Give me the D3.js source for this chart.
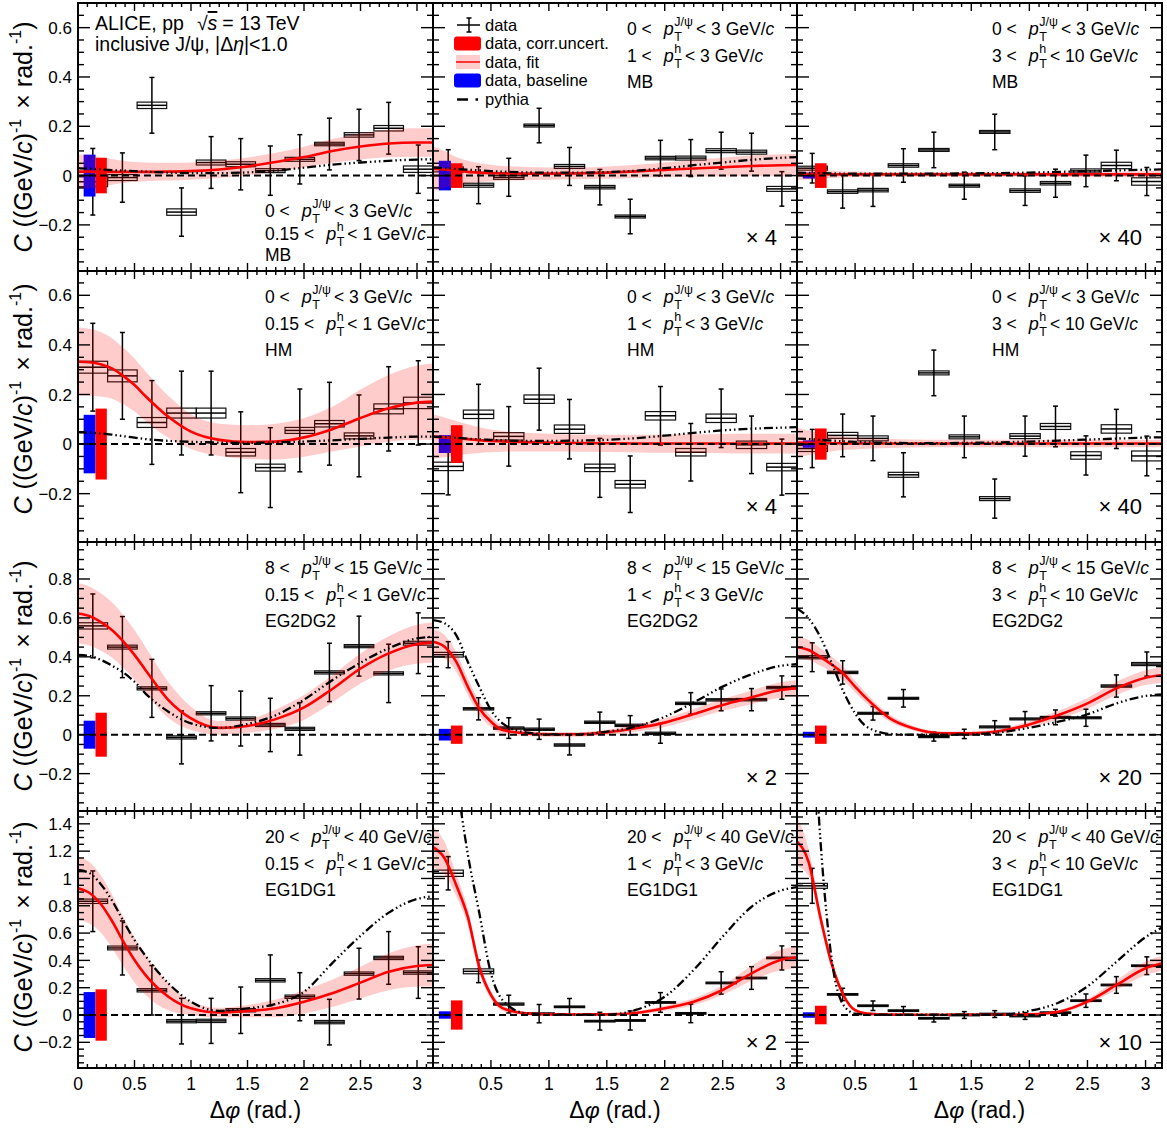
<!DOCTYPE html>
<meta charset="utf-8">
<style>
body{margin:0;background:#fff;}
svg{display:block;font-family:"Liberation Sans",Arial,Helvetica,sans-serif;}
.frame{fill:none;stroke:#000;stroke-width:2px;}
.tick{stroke:#000;stroke-width:1.4px;}
.sysbox{fill:none;stroke:#111;stroke-width:1.2px;}
.err{stroke:#000;stroke-width:1.5px;fill:none;}
.fit{fill:none;stroke:#ff0000;stroke-width:2.6px;}
.band{fill:#ff0000;fill-opacity:0.2;stroke:none;}
.pythia{fill:none;stroke:#000;stroke-width:2.3px;stroke-dasharray:9 3 1.5 3 1.5 3 1.5 3;}
.zero{stroke:#000;stroke-width:2px;stroke-dasharray:7 4;}
</style>
<body>
<script src="https://d3js.org/d3.v7.min.js"></script>
<script>
// bin centres in delta phi (12 bins of pi/12)
var centres = [0.131,0.393,0.654,0.916,1.178,1.440,1.702,1.963,2.225,2.487,2.749,3.011];
var binWidth = 0.2618;
// grid on which fit, band and pythia were read
var grid = [0,0.1,0.2,0.3,0.4,0.5,0.6,0.8,1.0,1.25,1.5,1.75,2.0,2.25,2.5,2.75,3.0,3.1416];

// ---- MB, 0 < pT J/psi < 3
var mbLowY   = [-0.025,-0.008,0.285,-0.148,0.053,0.046,0.02,0.066,0.128,0.165,0.192,0.026];
var mbLowErr = [0.135,0.1,0.113,0.098,0.105,0.104,0.1,0.1,0.105,0.104,0.105,0.098];
var mbLowSys = [0.02,0.012,0.013,0.013,0.01,0.01,0.008,0.008,0.007,0.009,0.011,0.013];
var mbLowFit = [0.016,0.016,0.015,0.015,0.015,0.015,0.015,0.016,0.018,0.025,0.037,0.055,0.075,0.1,0.118,0.13,0.134,0.134];
var mbLowBand= [0.07,0.068,0.06,0.052,0.045,0.04,0.038,0.036,0.035,0.035,0.036,0.038,0.042,0.048,0.053,0.056,0.058,0.058];
var mbLowPy  = [0.03,0.028,0.025,0.022,0.02,0.018,0.016,0.012,0.01,0.01,0.013,0.02,0.032,0.044,0.053,0.06,0.065,0.066];

var mbMidY   = [0.025,-0.039,-0.007,0.203,0.037,-0.047,-0.166,0.071,0.071,0.101,0.095,-0.054];
var mbMidErr = [0.08,0.075,0.077,0.07,0.077,0.072,0.07,0.072,0.075,0.075,0.077,0.07];
var mbMidSys = [0.01,0.008,0.008,0.006,0.008,0.007,0.006,0.007,0.008,0.008,0.008,0.01];
var mbMidFit = [0.028,0.025,0.02,0.015,0.012,0.01,0.009,0.008,0.008,0.009,0.012,0.017,0.023,0.029,0.034,0.039,0.042,0.043];
var mbMidBand= [0.09,0.075,0.055,0.045,0.038,0.034,0.03,0.027,0.025,0.024,0.025,0.027,0.03,0.034,0.038,0.042,0.045,0.045];
var mbMidPy  = [0.032,0.03,0.027,0.024,0.021,0.018,0.016,0.013,0.012,0.012,0.014,0.02,0.03,0.042,0.053,0.064,0.072,0.075];

var mbHighY   = [0.03,-0.065,-0.059,0.041,0.104,-0.041,0.177,-0.061,-0.031,0.019,0.041,-0.024];
var mbHighErr = [0.06,0.067,0.066,0.068,0.072,0.055,0.072,0.06,0.057,0.064,0.062,0.057];
var mbHighSys = [0.008,0.007,0.007,0.007,0.006,0.006,0.006,0.007,0.007,0.008,0.013,0.015];
var mbHighFit = [0.007,0.006,0.006,0.005,0.005,0.005,0.005,0.005,0.005,0.005,0.005,0.005,0.005,0.005,0.005,0.005,0.005,0.005];
var mbHighBand= [0.025,0.022,0.018,0.015,0.013,0.012,0.011,0.01,0.01,0.01,0.01,0.01,0.01,0.011,0.012,0.012,0.013,0.013];
var mbHighPy  = [0.012,0.011,0.01,0.009,0.008,0.008,0.008,0.008,0.008,0.008,0.009,0.01,0.012,0.015,0.018,0.021,0.024,0.025];

// ---- HM, 0 < pT J/psi < 3
var hmLowY   = [0.31,0.275,0.087,0.125,0.125,-0.033,-0.095,0.055,0.082,0.033,0.142,0.166];
var hmLowErr = [0.177,0.175,0.169,0.169,0.169,0.163,0.161,0.167,0.167,0.165,0.17,0.17];
var hmLowSys = [0.024,0.024,0.02,0.02,0.02,0.015,0.014,0.012,0.013,0.012,0.02,0.023];
var hmLowFit = [0.332,0.33,0.322,0.305,0.275,0.238,0.192,0.11,0.05,0.017,0.008,0.01,0.027,0.06,0.105,0.144,0.167,0.171];
var hmLowBand= [0.138,0.135,0.13,0.122,0.114,0.107,0.1,0.085,0.07,0.065,0.068,0.072,0.078,0.09,0.115,0.135,0.15,0.155];
var hmLowPy  = [0.048,0.046,0.043,0.038,0.032,0.026,0.02,0.013,0.009,0.006,0.005,0.007,0.01,0.015,0.021,0.026,0.03,0.03];

var hmMidY   = [-0.09,0.12,0.031,0.181,0.06,-0.096,-0.162,0.114,-0.033,0.104,-0.003,-0.093];
var hmMidErr = [0.115,0.121,0.12,0.125,0.12,0.119,0.114,0.118,0.116,0.118,0.116,0.113];
var hmMidSys = [0.017,0.017,0.015,0.017,0.017,0.015,0.015,0.017,0.015,0.017,0.015,0.015];
var hmMidFit = [0.03,0.027,0.023,0.02,0.016,0.013,0.011,0.008,0.006,0.004,0.003,0.002,0.002,0.002,0.002,0.002,0.002,0.002];
var hmMidBand= [0.09,0.08,0.07,0.06,0.052,0.046,0.042,0.038,0.036,0.035,0.035,0.036,0.037,0.038,0.039,0.04,0.04,0.04];
var hmMidPy  = [0.03,0.028,0.025,0.022,0.019,0.017,0.015,0.013,0.013,0.014,0.017,0.024,0.034,0.045,0.055,0.062,0.066,0.068];

var hmHighY   = [-0.018,0.035,0.023,-0.124,0.287,0.029,-0.22,0.032,0.071,-0.046,0.061,-0.048];
var hmHighErr = [0.077,0.086,0.09,0.089,0.092,0.084,0.079,0.081,0.082,0.079,0.079,0.08];
var hmHighSys = [0.012,0.012,0.01,0.01,0.008,0.008,0.008,0.01,0.012,0.015,0.017,0.02];
var hmHighFit = [0.006,0.005,0.004,0.003,0.003,0.002,0.002,0.002,0.002,0.002,0.002,0.002,0.002,0.002,0.002,0.002,0.002,0.002];
var hmHighBand= [0.06,0.05,0.04,0.032,0.027,0.024,0.021,0.018,0.016,0.015,0.015,0.015,0.015,0.015,0.015,0.015,0.015,0.015];
var hmHighPy  = [0.022,0.02,0.017,0.014,0.011,0.009,0.007,0.005,0.004,0.004,0.005,0.007,0.01,0.014,0.018,0.022,0.026,0.027];

// ---- EG2DG2, 8 < pT J/psi < 15
var eg2LowY   = [0.559,0.45,0.238,-0.014,0.11,0.083,0.05,0.03,0.32,0.455,0.315,0.47];
var eg2LowErr = [0.164,0.157,0.149,0.136,0.142,0.141,0.137,0.135,0.15,0.154,0.15,0.156];
var eg2LowSys = [0.016,0.01,0.008,0.008,0.008,0.008,0.008,0.008,0.008,0.008,0.008,0.01];
var eg2LowFit = [0.623,0.61,0.58,0.538,0.48,0.41,0.33,0.178,0.084,0.035,0.045,0.08,0.14,0.235,0.34,0.418,0.465,0.473];
var eg2LowBand= [0.155,0.152,0.148,0.142,0.135,0.128,0.118,0.092,0.06,0.035,0.035,0.05,0.064,0.07,0.077,0.088,0.1,0.103];
var eg2LowPy  = [0.41,0.405,0.385,0.355,0.32,0.272,0.21,0.118,0.058,0.035,0.055,0.1,0.18,0.28,0.37,0.444,0.495,0.503];

var eg2MidY   = [0.411,0.133,0.034,0.028,-0.053,0.064,0.048,0.007,0.161,0.179,0.18,0.242];
var eg2MidErr = [0.067,0.057,0.053,0.052,0.051,0.052,0.05,0.051,0.055,0.056,0.057,0.06];
var eg2MidSys = [0.012,0.006,0.006,0.006,0.006,0.006,0.006,0.006,0.006,0.006,0.006,0.006];
var eg2MidFit = [0.478,0.452,0.375,0.247,0.135,0.067,0.024,0.007,0.002,0.002,0.012,0.033,0.062,0.106,0.153,0.192,0.23,0.238];
var eg2MidBand= [0.065,0.06,0.05,0.042,0.035,0.028,0.022,0.015,0.012,0.012,0.014,0.018,0.022,0.026,0.03,0.035,0.04,0.043];
var eg2MidPy  = [0.589,0.572,0.512,0.375,0.245,0.127,0.058,0.012,0.002,0.002,0.016,0.041,0.092,0.166,0.247,0.31,0.354,0.362];

var eg2HighY   = [0.398,0.32,0.11,0.187,-0.01,0.004,0.04,0.081,0.089,0.087,0.25,0.363];
var eg2HighErr = [0.074,0.06,0.035,0.045,0.023,0.024,0.032,0.038,0.038,0.044,0.057,0.062];
var eg2HighSys = [0.008,0.006,0.005,0.005,0.005,0.005,0.005,0.005,0.005,0.005,0.006,0.008];
var eg2HighFit = [0.449,0.435,0.4,0.36,0.313,0.247,0.185,0.084,0.033,0.007,0.007,0.019,0.053,0.101,0.161,0.238,0.293,0.307];
var eg2HighBand= [0.058,0.052,0.045,0.04,0.035,0.03,0.025,0.018,0.012,0.01,0.01,0.012,0.016,0.022,0.028,0.034,0.038,0.04];
var eg2HighPy  = [0.649,0.598,0.503,0.367,0.221,0.11,0.041,0.004,0.0,0.0,0.002,0.012,0.036,0.067,0.105,0.161,0.199,0.207];

// ---- EG1DG1, 20 < pT J/psi < 40
var eg1LowY   = [0.833,0.491,0.181,-0.045,-0.043,0.035,0.254,0.134,-0.052,0.303,0.418,0.311];
var eg1LowErr = [0.222,0.198,0.181,0.167,0.165,0.17,0.186,0.176,0.167,0.186,0.193,0.189];
var eg1LowSys = [0.016,0.014,0.012,0.012,0.012,0.012,0.012,0.012,0.012,0.012,0.012,0.012];
var eg1LowFit = [0.928,0.895,0.815,0.69,0.54,0.403,0.29,0.134,0.049,0.018,0.029,0.049,0.097,0.159,0.237,0.317,0.359,0.366];
var eg1LowBand= [0.232,0.225,0.21,0.195,0.18,0.165,0.145,0.1,0.05,0.035,0.045,0.065,0.085,0.1,0.116,0.135,0.152,0.158];
var eg1LowPy  = [1.062,1.04,0.96,0.84,0.69,0.549,0.43,0.232,0.097,0.03,0.049,0.08,0.17,0.38,0.58,0.75,0.85,0.87];

var eg1MidY   = [1.038,0.32,0.08,0.01,0.06,-0.045,-0.04,0.092,0.012,0.235,0.271,0.418];
var eg1MidErr = [0.122,0.083,0.065,0.067,0.061,0.065,0.07,0.072,0.068,0.082,0.083,0.088];
var eg1MidSys = [0.023,0.018,0.008,0.006,0.006,0.006,0.006,0.006,0.006,0.006,0.006,0.006];
var eg1MidFit = [1.229,1.148,0.952,0.72,0.35,0.147,0.05,0.012,0.005,0.004,0.005,0.015,0.049,0.097,0.183,0.305,0.403,0.423];
var eg1MidBand= [0.15,0.12,0.08,0.06,0.045,0.03,0.02,0.012,0.01,0.01,0.01,0.012,0.018,0.025,0.035,0.055,0.075,0.082];
var eg1MidPy  = [2.6,2.4,1.75,1.18,0.745,0.305,0.11,0.012,0.003,0.003,0.003,0.037,0.134,0.33,0.574,0.793,0.911,0.936];

var eg1HighY   = [0.946,0.151,0.068,0.032,-0.024,0.0,0.007,-0.007,0.017,0.105,0.22,0.361];
var eg1HighErr = [0.128,0.045,0.035,0.03,0.027,0.025,0.025,0.025,0.025,0.049,0.061,0.065];
var eg1HighSys = [0.018,0.006,0.006,0.006,0.006,0.006,0.006,0.006,0.006,0.006,0.006,0.006];
var eg1HighFit = [1.27,1.12,0.72,0.37,0.145,0.035,0.01,0.003,0.002,0.002,0.002,0.002,0.005,0.024,0.098,0.22,0.342,0.379];
var eg1HighBand= [0.18,0.1,0.05,0.035,0.02,0.012,0.008,0.005,0.005,0.005,0.005,0.005,0.006,0.01,0.02,0.035,0.05,0.055];
var eg1HighPy  = [3.5,2.8,1.3,0.4,0.073,0.01,0.003,0.002,0.002,0.002,0.002,0.003,0.03,0.09,0.21,0.39,0.57,0.64];

// baseline (blue) and correlated uncertainty (red) half heights, per row / column
var baselineHalf = [[0.085,0.06,0.012],[0.118,0.036,0.015],[0.072,0.03,0.015],[0.168,0.027,0.02]];
var corrHalf     = [[0.072,0.05,0.05],[0.143,0.076,0.063],[0.113,0.047,0.047],[0.188,0.107,0.068]];

// labels
var triggers   = ["MB","HM","EG2DG2","EG1DG1"];
var jpsiLo     = ["0 <","0 <","8 <","20 <"];
var jpsiHi     = ["< 3 GeV/","< 3 GeV/","< 15 GeV/","< 40 GeV/"];
var hadLo      = ["0.15 <","1 <","3 <"];
var hadHi      = ["< 1 GeV/","< 3 GeV/","< 10 GeV/"];
var scaleText  = [["","× 4","× 40"],["","× 4","× 40"],["","× 2","× 20"],["","× 2","× 10"]];

var yTicks = [[-0.2,0,0.2,0.4,0.6],[-0.2,0,0.2,0.4,0.6],[-0.2,0,0.2,0.4,0.6,0.8],[-0.2,0,0.2,0.4,0.6,0.8,1.0,1.2,1.4]];
var yTickLabels = [["−0.2","0","0.2","0.4","0.6"],["−0.2","0","0.2","0.4","0.6"],
                   ["−0.2","0","0.2","0.4","0.6","0.8"],["−0.2","0","0.2","0.4","0.6","0.8","1","1.2","1.4"]];
var xTicks = [0,0.5,1,1.5,2,2.5,3];
var xTickLabels = ["0","0.5","1","1.5","2","2.5","3"];

var data = [
  [[mbLowY,mbLowErr,mbLowSys,mbLowFit,mbLowBand,mbLowPy],[mbMidY,mbMidErr,mbMidSys,mbMidFit,mbMidBand,mbMidPy],[mbHighY,mbHighErr,mbHighSys,mbHighFit,mbHighBand,mbHighPy]],
  [[hmLowY,hmLowErr,hmLowSys,hmLowFit,hmLowBand,hmLowPy],[hmMidY,hmMidErr,hmMidSys,hmMidFit,hmMidBand,hmMidPy],[hmHighY,hmHighErr,hmHighSys,hmHighFit,hmHighBand,hmHighPy]],
  [[eg2LowY,eg2LowErr,eg2LowSys,eg2LowFit,eg2LowBand,eg2LowPy],[eg2MidY,eg2MidErr,eg2MidSys,eg2MidFit,eg2MidBand,eg2MidPy],[eg2HighY,eg2HighErr,eg2HighSys,eg2HighFit,eg2HighBand,eg2HighPy]],
  [[eg1LowY,eg1LowErr,eg1LowSys,eg1LowFit,eg1LowBand,eg1LowPy],[eg1MidY,eg1MidErr,eg1MidSys,eg1MidFit,eg1MidBand,eg1MidPy],[eg1HighY,eg1HighErr,eg1HighSys,eg1HighFit,eg1HighBand,eg1HighPy]]
];

// layout
var colEdges = [[78,433],[433,797],[797,1162]];
var rowEdges = [[3,271],[271,542],[542,811],[811,1068]];
var yDomains = [[-0.387,0.70],[-0.395,0.698],[-0.392,0.99],[-0.388,1.494]];
var yTitleCentre = [137,399,676,937];
var scaleBaseline = [245,514,785,1050];

var svg = d3.select("body").append("svg").attr("width",1167).attr("height",1129);
var defs = svg.append("defs");

function steps(a,b,s){ var out=[]; for(var k=0; a+k*s<=b+1e-9; k++) out.push(a+k*s); return out; }

for(var r=0;r<4;r++){
  for(var c=0;c<3;c++){
    drawPanel(r,c);
  }
}

function drawPanel(r,c){
  var d = data[r][c];
  var vals=d[0], errs=d[1], sys=d[2], fit=d[3], band=d[4], py=d[5];
  var x0=colEdges[c][0], x1=colEdges[c][1], y0=rowEdges[r][0], y1=rowEdges[r][1];
  var x = d3.scaleLinear().domain([0,Math.PI]).range([x0,x1]);
  var y = d3.scaleLinear().domain(yDomains[r]).range([y1,y0]);
  var cid = "clip"+r+""+c;
  defs.append("clipPath").attr("id",cid).append("rect")
      .attr("x",x0).attr("y",y0).attr("width",x1-x0).attr("height",y1-y0);
  var g = svg.append("g").attr("clip-path","url(#"+cid+")");

  var pts = centres.map(function(cx,i){ return {x:cx, v:vals[i], e:errs[i], s:sys[i]}; });

  // systematic boxes
  g.selectAll("rect.sysbox").data(pts).enter().append("rect").attr("class","sysbox")
    .attr("x",function(p){ return x(p.x-binWidth/2); })
    .attr("width",function(p){ return x(p.x+binWidth/2)-x(p.x-binWidth/2); })
    .attr("y",function(p){ return y(p.v+p.s); })
    .attr("height",function(p){ return y(p.v-p.s)-y(p.v+p.s); });
  // horizontal bars
  g.selectAll("line.hbar").data(pts).enter().append("line").attr("class","err")
    .attr("x1",function(p){ return x(p.x-binWidth/2); })
    .attr("x2",function(p){ return x(p.x+binWidth/2); })
    .attr("y1",function(p){ return y(p.v); }).attr("y2",function(p){ return y(p.v); });
  // vertical error bars with small caps
  g.selectAll("line.vbar").data(pts).enter().append("line").attr("class","err")
    .attr("x1",function(p){ return x(p.x); }).attr("x2",function(p){ return x(p.x); })
    .attr("y1",function(p){ return y(p.v+p.e); }).attr("y2",function(p){ return y(p.v-p.e); });
  [1,-1].forEach(function(sg){
    g.selectAll("line.cap"+sg).data(pts).enter().append("line").attr("class","err")
      .attr("x1",function(p){ return x(p.x)-2.5; }).attr("x2",function(p){ return x(p.x)+2.5; })
      .attr("y1",function(p){ return y(p.v+sg*p.e); }).attr("y2",function(p){ return y(p.v+sg*p.e); });
  });

  // baseline and correlated uncertainty bars
  g.append("rect").attr("fill","#0000ff")
    .attr("x",x(0.05)).attr("width",x(0.155)-x(0.05))
    .attr("y",y(baselineHalf[r][c])).attr("height",y(-baselineHalf[r][c])-y(baselineHalf[r][c]));
  g.append("rect").attr("fill","#ff0000")
    .attr("x",x(0.155)).attr("width",x(0.255)-x(0.155))
    .attr("y",y(corrHalf[r][c])).attr("height",y(-corrHalf[r][c])-y(corrHalf[r][c]));

  var curvePts = grid.map(function(gx,i){ return {x:gx, f:fit[i], b:band[i], p:py[i]}; });
  g.append("path").attr("class","band")
    .attr("d", d3.area().curve(d3.curveMonotoneX)
      .x(function(p){ return x(p.x); })
      .y0(function(p){ return y(p.f-p.b); })
      .y1(function(p){ return y(p.f+p.b); })(curvePts));
  g.append("path").attr("class","fit")
    .attr("d", d3.line().curve(d3.curveMonotoneX)
      .x(function(p){ return x(p.x); }).y(function(p){ return y(p.f); })(curvePts));
  g.append("line").attr("class","zero")
    .attr("x1",x0).attr("x2",x1).attr("y1",y(0)).attr("y2",y(0));
  g.append("path").attr("class","pythia")
    .attr("d", d3.line().curve(d3.curveMonotoneX)
      .x(function(p){ return x(p.x); }).y(function(p){ return y(p.p); })(curvePts));

  // frame and ticks on all sides
  var a = svg.append("g");
  a.append("rect").attr("class","frame").attr("x",x0).attr("y",y0).attr("width",x1-x0).attr("height",y1-y0);
  steps(0, Math.PI, 0.5/6).forEach(function(t,k){
    var len = (k % 6 === 0) ? 8 : 4;
    a.append("line").attr("class","tick").attr("x1",x(t)).attr("x2",x(t)).attr("y1",y1).attr("y2",y1-len);
    a.append("line").attr("class","tick").attr("x1",x(t)).attr("x2",x(t)).attr("y1",y0).attr("y2",y0+len);
  });
  steps(-0.35, yDomains[r][1], 0.05).forEach(function(t,k){
    var len = ((k+1) % 4 === 0) ? 12 : 6;   // -0.2, 0, 0.2 ... are every fourth step from -0.35
    a.append("line").attr("class","tick").attr("x1",x0).attr("x2",x0+len).attr("y1",y(t)).attr("y2",y(t));
    a.append("line").attr("class","tick").attr("x1",x1).attr("x2",x1-len).attr("y1",y(t)).attr("y2",y(t));
  });

  // y tick labels and title on first column
  if (c === 0){
    yTicks[r].forEach(function(t,i){
      svg.append("text").attr("x",72).attr("y",y(t)).attr("dy","0.36em")
        .attr("text-anchor","end").attr("font-size",17).text(yTickLabels[r][i]);
    });
    drawYTitle(32, yTitleCentre[r]);
  }
  // x tick labels and title on bottom row
  if (r === 3){
    xTicks.forEach(function(t,i){
      if (c > 0 && t === 0) return;
      svg.append("text").attr("x",x(t)).attr("y",1090).attr("text-anchor","middle")
        .attr("font-size",17.5).text(xTickLabels[i]);
    });
    var xt = svg.append("text").attr("x",(x0+x1)/2).attr("y",1118).attr("text-anchor","middle").attr("font-size",23);
    xt.append("tspan").text("Δ");
    xt.append("tspan").attr("font-style","italic").text("φ");
    xt.append("tspan").attr("dx",6).text("(rad.)");
  }

  // kinematic labels
  var lx = [265,627,992][c];
  var ly = (r===0 && c===0) ? [217,240,261] : [y0+32,y0+59,y0+85];
  kinLabel(lx, ly[0], jpsiLo[r], "J/ψ", jpsiHi[r]);
  kinLabel(lx, ly[1], hadLo[c], "h", hadHi[c]);
  svg.append("text").attr("x",lx).attr("y",ly[2]).attr("font-size",17.5).text(triggers[r]);

  if (scaleText[r][c]){
    svg.append("text").attr("x",x1-20).attr("y",scaleBaseline[r]).attr("text-anchor","end")
      .attr("font-size",22).text(scaleText[r][c]);
  }
}

function kinLabel(x, y, lo, sup, hi){
  var fs = 17.5;
  var t1 = svg.append("text").attr("x",x).attr("y",y).attr("font-size",fs).text(lo);
  var px = x + t1.node().getComputedTextLength() + 12;
  var tp = svg.append("text").attr("x",px).attr("y",y).attr("font-size",fs+0.5).attr("font-style","italic").text("p");
  var sx = px + tp.node().getComputedTextLength() + 0.5;
  var ts = svg.append("text").attr("x",sx).attr("y",y+5.5).attr("font-size",12.5).text("T");
  var tu = svg.append("text").attr("x",sx).attr("y",y-9.5).attr("font-size",12.5).text(sup);
  var ex = sx + Math.max(ts.node().getComputedTextLength(), tu.node().getComputedTextLength()) + 3;
  var th = svg.append("text").attr("x",ex).attr("y",y).attr("font-size",fs);
  th.append("tspan").text(hi);
  th.append("tspan").attr("font-style","italic").text("c");
}

function drawYTitle(x, cy){
  var t = svg.append("text").attr("transform","translate("+x+","+cy+") rotate(-90)")
    .attr("text-anchor","middle").attr("font-size",25);
  t.append("tspan").attr("font-style","italic").text("C");
  t.append("tspan").attr("dx",7).text("((GeV/");
  t.append("tspan").attr("font-style","italic").text("c");
  t.append("tspan").text(")");
  t.append("tspan").attr("font-size",16).attr("dy",-11).text("-1");
  t.append("tspan").attr("dy",11).attr("dx",10).text("×");
  t.append("tspan").attr("dx",7).text("rad.");
  t.append("tspan").attr("font-size",16).attr("dy",-11).text("-1");
  t.append("tspan").attr("dy",11).text(")");
}

// header in the first panel
var h1 = svg.append("text").attr("x",95).attr("y",30).attr("font-size",19.5);
h1.append("tspan").text("ALICE, pp");
h1.append("tspan").attr("dx",13).text("√");
h1.append("tspan").attr("font-style","italic").attr("text-decoration","overline").text("s");
h1.append("tspan").attr("dx",5).text("= 13 TeV");
var h2 = svg.append("text").attr("x",95).attr("y",51).attr("font-size",19.5);
h2.append("tspan").text("inclusive J/ψ, |Δ");
h2.append("tspan").attr("font-style","italic").text("η");
h2.append("tspan").text("|<1.0");

// legend in panel (MB, 1-3)
var leg = svg.append("g");
var legY = [25,43.5,62,80.5,99.5];
var legText = ["data","data, corr.uncert.","data, fit","data, baseline","pythia"];
legText.forEach(function(s,i){
  leg.append("text").attr("x",485).attr("y",legY[i]).attr("dy","0.36em").attr("font-size",16.5).text(s);
});
leg.append("line").attr("class","err").attr("x1",457).attr("x2",480).attr("y1",legY[0]).attr("y2",legY[0]);
leg.append("line").attr("class","err").attr("x1",469).attr("x2",469).attr("y1",legY[0]-7).attr("y2",legY[0]+7);
leg.append("line").attr("class","err").attr("x1",466.5).attr("x2",471.5).attr("y1",legY[0]-7).attr("y2",legY[0]-7);
leg.append("line").attr("class","err").attr("x1",466.5).attr("x2",471.5).attr("y1",legY[0]+7).attr("y2",legY[0]+7);
leg.append("rect").attr("x",454).attr("y",legY[1]-7).attr("width",27).attr("height",14).attr("rx",3).attr("fill","#ff0000");
leg.append("rect").attr("x",456).attr("y",legY[2]-7).attr("width",24).attr("height",14).attr("fill","#ff0000").attr("fill-opacity",0.2);
leg.append("line").attr("x1",456).attr("x2",480).attr("y1",legY[2]).attr("y2",legY[2]).attr("stroke","#ff0000").attr("stroke-width",1.5);
leg.append("rect").attr("x",454).attr("y",legY[3]-7).attr("width",27).attr("height",14).attr("rx",3).attr("fill","#0000ff");
leg.append("line").attr("x1",457).attr("x2",468).attr("y1",legY[4]).attr("y2",legY[4]).attr("stroke","#000").attr("stroke-width",2.5);
leg.append("line").attr("x1",475.5).attr("x2",478).attr("y1",legY[4]).attr("y2",legY[4]).attr("stroke","#000").attr("stroke-width",2.5);
</script>
</body>
